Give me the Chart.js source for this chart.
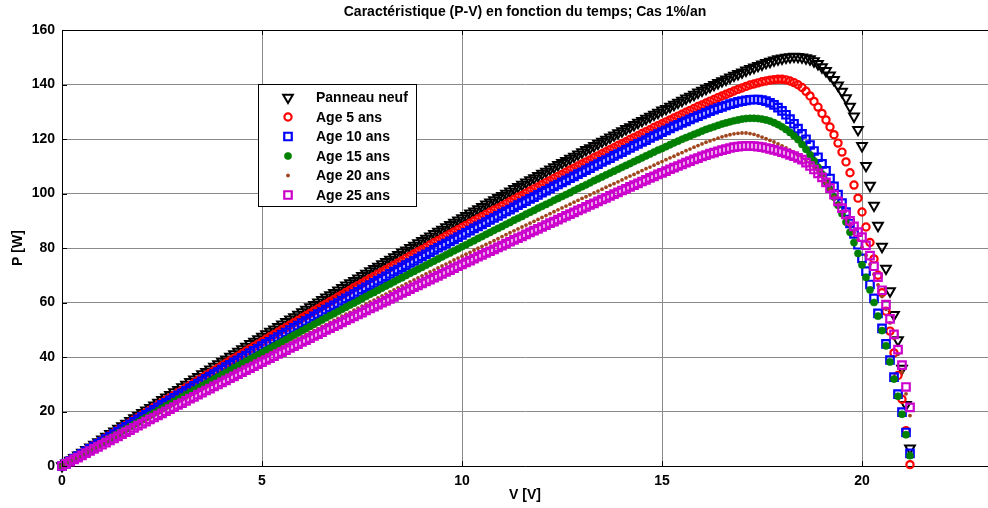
<!DOCTYPE html>
<html><head><meta charset="utf-8">
<script src="https://cdn.jsdelivr.net/npm/chart.js@4/dist/chart.umd.min.js"></script>
<style>html,body{margin:0;padding:0;background:#fff;}#wrap{width:988px;height:508px;}</style>
</head><body><div id="wrap"><canvas id="c" width="988" height="508"></canvas></div>
<script>
const voltage = [0,0.1,0.2,0.3,0.4,0.5,0.6,0.7,0.8,0.9,1,1.1,1.2,1.3,1.4,1.5,1.6,1.7,1.8,1.9,2,2.1,2.2,2.3,2.4,2.5,2.6,2.7,2.8,2.9,3,3.1,3.2,3.3,3.4,3.5,3.6,3.7,3.8,3.9,4,4.1,4.2,4.3,4.4,4.5,4.6,4.7,4.8,4.9,5,5.1,5.2,5.3,5.4,5.5,5.6,5.7,5.8,5.9,6,6.1,6.2,6.3,6.4,6.5,6.6,6.7,6.8,6.9,7,7.1,7.2,7.3,7.4,7.5,7.6,7.7,7.8,7.9,8,8.1,8.2,8.3,8.4,8.5,8.6,8.7,8.8,8.9,9,9.1,9.2,9.3,9.4,9.5,9.6,9.7,9.8,9.9,10,10.1,10.2,10.3,10.4,10.5,10.6,10.7,10.8,10.9,11,11.1,11.2,11.3,11.4,11.5,11.6,11.7,11.8,11.9,12,12.1,12.2,12.3,12.4,12.5,12.6,12.7,12.8,12.9,13,13.1,13.2,13.3,13.4,13.5,13.6,13.7,13.8,13.9,14,14.1,14.2,14.3,14.4,14.5,14.6,14.7,14.8,14.9,15,15.1,15.2,15.3,15.4,15.5,15.6,15.7,15.8,15.9,16,16.1,16.2,16.3,16.4,16.5,16.6,16.7,16.8,16.9,17,17.1,17.2,17.3,17.4,17.5,17.6,17.7,17.8,17.9,18,18.1,18.2,18.3,18.4,18.5,18.6,18.7,18.8,18.9,19,19.1,19.2,19.3,19.4,19.5,19.6,19.7,19.8,19.9,20,20.1,20.2,20.3,20.4,20.5,20.6,20.7,20.8,20.9,21,21.1,21.2];
const pNeuf = [0,1.0,2.0,3.0,3.9,4.9,5.9,6.9,7.9,8.8,
9.8,10.8,11.8,12.7,13.7,14.7,15.6,16.6,17.6,18.5,
19.5,20.4,21.4,22.3,23.3,24.3,25.2,26.1,27.1,28.0,
29.0,29.9,30.9,31.8,32.7,33.7,34.6,35.5,36.5,37.4,
38.3,39.2,40.2,41.1,42.0,42.9,43.8,44.8,45.7,46.6,
47.5,48.4,49.3,50.2,51.1,52.0,52.9,53.8,54.7,55.6,
56.5,57.4,58.3,59.2,60.1,61.0,61.9,62.7,63.6,64.5,
65.4,66.3,67.1,68.0,68.9,69.8,70.6,71.5,72.4,73.2,
74.1,74.9,75.8,76.7,77.5,78.4,79.2,80.1,80.9,81.8,
82.6,83.5,84.3,85.2,86.0,86.8,87.7,88.5,89.3,90.2,
91.0,91.8,92.7,93.5,94.3,95.1,96.0,96.8,97.6,98.4,
99.2,100.0,100.8,101.7,102.5,103.3,104.1,104.9,105.7,106.5,
107.3,108.1,108.9,109.7,110.5,111.3,112.0,112.8,113.6,114.4,
115.2,116.0,116.7,117.5,118.3,119.1,119.8,120.6,121.4,122.2,
122.9,123.7,124.4,125.2,126.0,126.7,127.5,128.2,129.0,129.7,
130.5,131.1,131.9,132.6,133.4,134.1,134.9,135.6,136.3,137.1,
137.8,138.5,139.2,139.9,140.6,141.3,141.9,142.6,143.3,143.9,
144.5,145.2,145.8,146.3,146.9,147.4,148.0,148.4,148.9,149.3,
149.6,149.9,150.1,150.3,150.2,150.0,149.7,149.3,148.6,147.6,
146.4,145.0,143.4,141.7,139.7,137.4,135.0,131.9,128.3,123.4,
117.5,110.2,102.9,95.6,88.2,80.5,72.5,64.2,55.5,46.2,
35.8,22.5,6.5];
const pAge5 = [0,0.9,1.9,2.8,3.8,4.7,5.7,6.6,7.6,8.5,
9.4,10.4,11.3,12.2,13.2,14.1,15.0,15.9,16.9,17.8,
18.7,19.6,20.5,21.5,22.4,23.3,24.2,25.1,26.0,26.9,
27.8,28.7,29.6,30.5,31.4,32.3,33.2,34.1,35.0,35.9,
36.8,37.7,38.6,39.5,40.3,41.2,42.1,43.0,43.9,44.7,
45.6,46.5,47.4,48.2,49.1,50.0,50.8,51.7,52.6,53.4,
54.3,55.2,56.0,56.9,57.7,58.6,59.4,60.3,61.1,62.0,
62.8,63.7,64.5,65.4,66.2,67.0,67.9,68.7,69.5,70.4,
71.2,72.0,72.9,73.7,74.5,75.3,76.2,77.0,77.8,78.6,
79.4,80.2,81.1,81.9,82.7,83.5,84.3,85.1,85.9,86.7,
87.5,88.3,89.1,89.9,90.7,91.5,92.3,93.1,93.9,94.6,
95.4,96.2,97.0,97.8,98.6,99.3,100.1,100.9,101.7,102.4,
103.2,104.0,104.7,105.5,106.3,107.0,107.8,108.6,109.3,110.1,
110.8,111.6,112.3,113.1,113.8,114.6,115.3,116.1,116.8,117.6,
118.3,119.0,119.8,120.5,121.2,122.0,122.7,123.4,124.2,124.9,
125.6,126.3,127.0,127.7,128.4,129.1,129.8,130.5,131.2,131.9,
132.5,133.2,133.9,134.5,135.2,135.8,136.4,137.0,137.6,138.2,
138.7,139.3,139.8,140.2,140.6,141.0,141.3,141.6,141.8,141.9,
141.9,141.7,141.3,140.7,139.9,138.9,137.5,135.8,133.8,131.7,
129.4,127.0,124.4,121.6,118.5,115.2,111.6,107.6,103.1,98.3,
93.2,87.7,82.0,76.0,70.0,63.6,56.8,49.5,41.5,33.2,
24.5,13.0,0.5];
const pAge10 = [0,0.9,1.8,2.7,3.6,4.5,5.4,6.3,7.2,8.1,
9.0,9.9,10.8,11.7,12.6,13.5,14.4,15.3,16.2,17.1,
18.0,18.8,19.7,20.6,21.5,22.4,23.2,24.1,25.0,25.9,
26.7,27.6,28.5,29.4,30.2,31.1,32.0,32.8,33.7,34.5,
35.4,36.3,37.1,38.0,38.8,39.7,40.5,41.4,42.3,43.1,
44.0,44.8,45.6,46.5,47.3,48.2,49.0,49.9,50.7,51.5,
52.4,53.2,54.0,54.9,55.7,56.5,57.4,58.2,59.0,59.8,
60.7,61.5,62.3,63.1,63.9,64.8,65.6,66.4,67.2,68.0,
68.8,69.6,70.5,71.3,72.1,72.9,73.7,74.5,75.3,76.1,
76.9,77.7,78.5,79.3,80.1,80.9,81.6,82.4,83.2,84.0,
84.8,85.6,86.4,87.2,87.9,88.7,89.5,90.3,91.0,91.8,
92.6,93.4,94.1,94.9,95.7,96.5,97.2,98.0,98.7,99.5,
100.3,101.0,101.8,102.6,103.3,104.1,104.8,105.6,106.3,107.1,
107.8,108.6,109.3,110.1,110.8,111.6,112.3,113.0,113.8,114.5,
115.2,116.0,116.7,117.5,118.2,118.9,119.6,120.4,121.1,121.8,
122.5,123.2,123.9,124.6,125.2,125.9,126.5,127.2,127.8,128.4,
129.0,129.6,130.2,130.8,131.3,131.8,132.3,132.8,133.2,133.6,
133.9,134.2,134.4,134.5,134.5,134.3,133.9,133.3,132.5,131.5,
130.3,128.9,127.3,125.6,123.8,121.9,119.9,117.8,115.6,113.3,
110.9,108.3,105.5,102.6,99.6,96.5,93.2,89.0,85.2,81.2,
76.2,71.5,66.6,61.5,56.0,50.5,44.8,38.9,32.6,26.4,
19.8,12.3,4.6];
const pAge15 = [0,0.9,1.7,2.6,3.4,4.3,5.1,6.0,6.8,7.7,
8.5,9.4,10.2,11.1,11.9,12.8,13.6,14.5,15.3,16.1,
17.0,17.8,18.7,19.5,20.3,21.2,22.0,22.8,23.6,24.5,
25.3,26.1,27.0,27.8,28.6,29.4,30.2,31.1,31.9,32.7,
33.5,34.3,35.1,36.0,36.8,37.6,38.4,39.2,40.0,40.8,
41.6,42.4,43.2,44.0,44.8,45.6,46.4,47.2,48.0,48.8,
49.6,50.4,51.2,52.0,52.8,53.6,54.4,55.2,55.9,56.7,
57.5,58.3,59.1,59.8,60.6,61.4,62.2,63.0,63.7,64.5,
65.3,66.1,66.8,67.6,68.4,69.1,69.9,70.7,71.4,72.2,
72.9,73.7,74.5,75.2,76.0,76.7,77.5,78.2,79.0,79.7,
80.5,81.2,82.0,82.7,83.5,84.2,85.0,85.7,86.5,87.2,
87.9,88.7,89.4,90.2,90.9,91.6,92.4,93.1,93.8,94.6,
95.3,96.0,96.7,97.5,98.2,98.9,99.6,100.3,101.1,101.8,
102.5,103.2,103.9,104.7,105.4,106.1,106.8,107.5,108.2,108.9,
109.6,110.3,111.0,111.7,112.4,113.1,113.8,114.5,115.2,115.9,
116.5,117.2,117.9,118.6,119.2,119.9,120.5,121.1,121.7,122.3,
122.9,123.5,124.0,124.5,125.0,125.5,125.9,126.3,126.7,127.0,
127.3,127.5,127.6,127.6,127.5,127.3,127.0,126.6,126.0,125.3,
124.5,123.5,122.4,121.2,119.8,118.0,116.2,114.2,112.0,109.6,
107.1,104.4,101.6,98.7,95.7,92.6,89.5,85.8,82.0,78.0,
73.8,69.2,64.6,60.0,55.0,49.7,44.1,38.2,31.9,25.6,
19.0,11.5,3.8];
const pAge20 = [0,0.8,1.6,2.5,3.3,4.1,4.9,5.7,6.5,7.3,
8.2,9.0,9.8,10.6,11.4,12.2,13.0,13.8,14.6,15.4,
16.2,17.0,17.8,18.6,19.4,20.2,21.0,21.8,22.6,23.4,
24.2,24.9,25.7,26.5,27.3,28.1,28.9,29.7,30.4,31.2,
32.0,32.8,33.6,34.3,35.1,35.9,36.7,37.4,38.2,39.0,
39.8,40.5,41.3,42.1,42.8,43.6,44.4,45.1,45.9,46.6,
47.4,48.2,48.9,49.7,50.4,51.2,51.9,52.7,53.4,54.2,
55.0,55.7,56.4,57.2,57.9,58.7,59.4,60.2,60.9,61.7,
62.4,63.1,63.9,64.6,65.4,66.1,66.8,67.6,68.3,69.0,
69.8,70.5,71.2,71.9,72.7,73.4,74.1,74.8,75.6,76.3,
77.0,77.7,78.4,79.2,79.9,80.6,81.3,82.0,82.7,83.4,
84.2,84.9,85.6,86.3,87.0,87.7,88.4,89.1,89.8,90.5,
91.2,91.9,92.6,93.3,94.0,94.7,95.4,96.1,96.8,97.5,
98.2,98.8,99.5,100.2,100.9,101.6,102.3,103.0,103.6,104.3,
105.0,105.7,106.4,107.0,107.7,108.4,109.1,109.7,110.4,111.1,
111.7,112.4,113.1,113.7,114.4,115.0,115.7,116.3,117.0,117.6,
118.2,118.8,119.3,119.8,120.3,120.8,121.2,121.6,121.9,122.1,
122.2,122.2,122.0,121.7,121.2,120.7,120.1,119.5,118.9,118.2,
117.5,116.7,115.9,115.0,114.0,113.0,111.9,110.8,109.6,108.3,
106.3,104.0,101.5,98.8,96.1,93.4,90.8,88.2,85.6,83.0,
80.3,77.3,74.0,70.4,66.5,62.2,57.5,52.5,46.8,41.0,
34.5,26.5,18.5];
const pAge25 = [0,0.8,1.6,2.4,3.1,3.9,4.7,5.5,6.3,7.0,
7.8,8.6,9.4,10.1,10.9,11.7,12.4,13.2,14.0,14.8,
15.5,16.3,17.1,17.8,18.6,19.3,20.1,20.9,21.6,22.4,
23.1,23.9,24.7,25.4,26.2,26.9,27.7,28.4,29.2,29.9,
30.7,31.4,32.2,32.9,33.7,34.4,35.2,35.9,36.6,37.4,
38.1,38.9,39.6,40.3,41.1,41.8,42.5,43.3,44.0,44.7,
45.5,46.2,46.9,47.7,48.4,49.1,49.9,50.6,51.3,52.0,
52.7,53.5,54.2,54.9,55.6,56.3,57.1,57.8,58.5,59.2,
59.9,60.6,61.3,62.1,62.8,63.5,64.2,64.9,65.6,66.3,
67.0,67.7,68.4,69.1,69.8,70.5,71.2,71.9,72.6,73.3,
74.0,74.7,75.4,76.1,76.8,77.5,78.2,78.8,79.5,80.2,
80.9,81.6,82.3,83.0,83.6,84.3,85.0,85.7,86.4,87.0,
87.7,88.4,89.1,89.7,90.4,91.1,91.8,92.4,93.1,93.8,
94.4,95.1,95.8,96.4,97.1,97.8,98.4,99.1,99.8,100.4,
101.1,101.7,102.4,103.1,103.7,104.4,105.0,105.7,106.3,107.0,
107.6,108.2,108.9,109.5,110.1,110.7,111.3,111.9,112.5,113.0,
113.6,114.1,114.6,115.0,115.5,115.9,116.3,116.7,117.0,117.2,
117.4,117.5,117.5,117.4,117.2,117.0,116.7,116.4,116.0,115.6,
115.2,114.7,114.2,113.7,113.1,112.4,111.3,110.1,108.8,107.4,
105.9,104.1,102.0,99.6,97.1,94.6,92.3,90.0,87.9,85.8,
84.0,81.0,77.2,73.3,69.3,64.5,59.2,54.0,48.3,42.7,
37.0,29.0,21.5];
const seriesLabels = ['Panneau neuf','Age 5 ans','Age 10 ans','Age 15 ans','Age 20 ans','Age 25 ans'];
const xTicks = [0,5,10,15,20];
const yTicks = [0,20,40,60,80,100,120,140,160];

const styles = [
  {color:'#000000', pointStyle:'triangle', rotation:180, radius:5.6, fill:false, bw:2},
  {color:'#ff0000', pointStyle:'circle', rotation:0, radius:3.6, fill:false, bw:2.2},
  {color:'#0000ff', pointStyle:'rect', rotation:0, radius:5.3, fill:false, bw:2.2},
  {color:'#008000', pointStyle:'circle', rotation:0, radius:3.6, fill:true, bw:0.6},
  {color:'#a0461e', pointStyle:'circle', rotation:0, radius:1.9, fill:true, bw:0},
  {color:'#cc00cc', pointStyle:'rect', rotation:0, radius:5.3, fill:false, bw:2.2}
];
const allP = [pNeuf,pAge5,pAge10,pAge15,pAge20,pAge25];
allP.forEach((a,i)=>{ if(a.length!==voltage.length) throw new Error('length mismatch series '+i+': '+a.length); });
const datasets = allP.map((arr,i)=>({
  label: seriesLabels[i],
  data: voltage.map((v,k)=>({x:v,y:arr[k]})),
  showLine:false,
  pointStyle: styles[i].pointStyle,
  rotation: styles[i].rotation,
  pointRadius: styles[i].radius,
  pointBorderWidth: styles[i].bw,
  pointBorderColor: styles[i].color,
  pointBackgroundColor: styles[i].fill ? styles[i].color : 'rgba(0,0,0,0)',
  borderColor: styles[i].color,
  backgroundColor: styles[i].fill ? styles[i].color : 'rgba(0,0,0,0)',
  clip: false,
  order: 6-i
}));

const FONT = "'Liberation Sans', Arial, Helvetica, sans-serif";

const framePlugin = {
  id:'frame',
  afterDraw(chart){
    const {ctx, chartArea:a, scales} = chart;
    ctx.save();
    ctx.strokeStyle='#000'; ctx.lineWidth=1;
    ctx.beginPath();
    ctx.moveTo(a.left, a.top+0.5); ctx.lineTo(a.right, a.top+0.5);
    xTicks.forEach(t=>{const x=Math.round(scales.x.getPixelForValue(t))+0.5;
      ctx.moveTo(x,a.bottom); ctx.lineTo(x,a.bottom-5);
      ctx.moveTo(x,a.top); ctx.lineTo(x,a.top+5);});
    yTicks.forEach(t=>{const y=Math.round(scales.y.getPixelForValue(t))+0.5;
      ctx.moveTo(a.left,y); ctx.lineTo(a.left+5,y);});
    ctx.stroke();
    const lx=258.5, ly=84.5, lw=158, lh=122;
    ctx.fillStyle='#fff'; ctx.fillRect(lx,ly,lw,lh);
    ctx.strokeRect(lx,ly,lw,lh);
    ctx.font = "bold 14px "+FONT;
    ctx.textBaseline='middle'; ctx.textAlign='left';
    chart.data.datasets.forEach((ds,i)=>{
      const y = 97.5 + i*19.5;
      const s = styles[i];
      ctx.fillStyle = s.fill ? s.color : 'rgba(0,0,0,0)';
      ctx.strokeStyle = s.color; ctx.lineWidth = s.bw;
      Chart.helpers.drawPoint(ctx,{pointStyle:s.pointStyle,rotation:s.rotation,radius:s.radius,borderWidth:s.bw},288,y);
      ctx.fillStyle='#000';
      ctx.fillText(ds.label,316,y+1);
    });
    ctx.restore();
  }
};

new Chart(document.getElementById('c'),{
  type:'scatter',
  data:{datasets},
  plugins:[framePlugin],
  options:{
    responsive:false, animation:false, devicePixelRatio:1,
    layout:{padding:0, autoPadding:false},
    plugins:{
      legend:{display:false},
      tooltip:{enabled:false},
      title:{display:true, fullSize:false, text:'Caractéristique (P-V) en fonction du temps; Cas 1%/an',
        color:'#000', font:{family:FONT, size:14, weight:'bold', lineHeight:1.2}, padding:{top:4,bottom:9.2}}
    },
    scales:{
      x:{type:'linear', min:0, max:23.15,
        afterFit(s){s.height=42; s.paddingLeft=0; s.paddingRight=0;},
        afterBuildTicks(s){s.ticks = xTicks.map(v=>({value:v}));},
        grid:{color:'#8a8a8a', lineWidth:1, drawTicks:false},
        border:{color:'#000', width:1},
        ticks:{color:'#000', padding:7, font:{family:FONT,size:14,weight:'bold'}},
        title:{display:true,text:'V [V]',color:'#000',font:{family:FONT,size:14,weight:'bold'},padding:{top:0,bottom:4}}
      },
      y:{type:'linear', min:0, max:160,
        afterFit(s){s.width=62; s.paddingTop=0; s.paddingBottom=0;},
        afterBuildTicks(s){s.ticks = yTicks.map(v=>({value:v}));},
        grid:{color:'#8a8a8a', lineWidth:1, drawTicks:false},
        border:{color:'#000', width:1},
        ticks:{color:'#000', padding:7, font:{family:FONT,size:14,weight:'bold'}},
        title:{display:true,text:'P [W]',color:'#000',font:{family:FONT,size:14,weight:'bold'},padding:{top:10,bottom:0}}
      }
    }
  }
});
</script></body></html>
